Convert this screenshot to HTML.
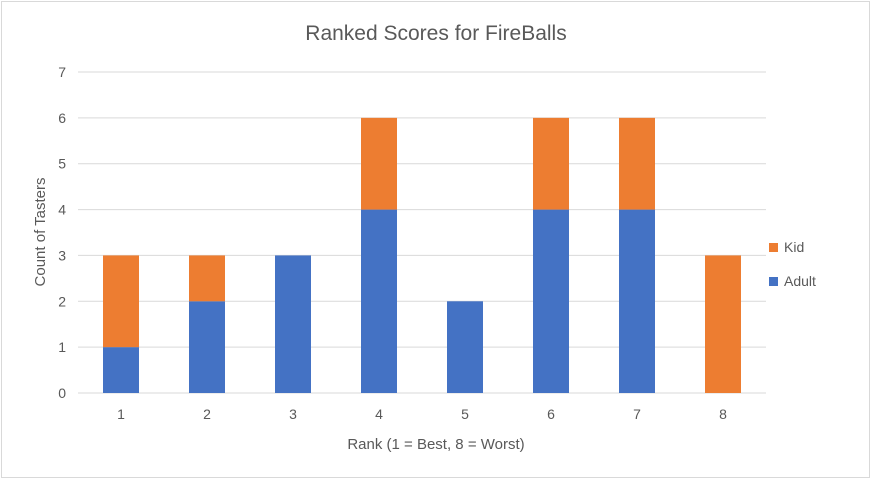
<!DOCTYPE html>
<html><head><meta charset="utf-8"><style>
body{margin:0;background:#fff;font-family:"Liberation Sans",sans-serif;}
svg{display:block}
</style></head><body>
<svg id="chart" width="872" height="480">
<rect x="1.5" y="1.5" width="868" height="476" fill="#fff" stroke="#d9d9d9"/>
<text x="436" y="40" text-anchor="middle" font-size="21" fill="#595959">Ranked Scores for FireBalls</text>
<g id="grid"></g><g id="bars"></g><g id="xt"></g><g id="yt"></g>
<text x="436" y="449" text-anchor="middle" font-size="15" fill="#595959">Rank (1 = Best, 8 = Worst)</text>
<text transform="translate(45,232) rotate(-90)" text-anchor="middle" font-size="15" fill="#595959">Count of Tasters</text>
<g>
<rect x="769" y="243" width="9" height="9" fill="#ED7D31"/>
<text x="784" y="252" font-size="14" fill="#595959">Kid</text>
<rect x="769" y="277" width="9" height="9" fill="#4472C4"/>
<text x="784" y="286" font-size="14" fill="#595959">Adult</text>
</g>
</svg>
<script>
const categories=["1","2","3","4","5","6","7","8"];
const adult=[1,2,3,4,2,4,4,0];
const kid=[2,1,0,2,0,2,2,3];
const yTicks=[0,1,2,3,4,5,6,7];
const NS="http://www.w3.org/2000/svg";
const left=78,right=766,y0=393,y7=72,yMax=7;
const y=v=>y0-(y0-y7)*v/yMax;
const step=(right-left)/categories.length;
const xc=i=>left+step*(i+0.5);
const bw=36;
function mk(tag,attrs,parent){const e=document.createElementNS(NS,tag);for(const k in attrs)e.setAttribute(k,attrs[k]);document.getElementById(parent).appendChild(e);return e;}
yTicks.forEach(t=>{
 const l=mk("line",{x1:left,x2:right,y1:y(t),y2:y(t),stroke:"#d9d9d9","stroke-width":1},"grid");
 
 
 const tx=mk("text",{x:66,y:y(t)+5,"text-anchor":"end","font-size":14,fill:"#595959"},"yt");
 tx.textContent=t;
 
 
});
categories.forEach((c,i)=>{
 const a=mk("rect",{x:xc(i)-bw/2,y:y(adult[i]),width:bw,height:y(0)-y(adult[i]),fill:"#4472C4"},"bars");
 
 
 const k=mk("rect",{x:xc(i)-bw/2,y:y(adult[i]+kid[i]),width:bw,height:y(adult[i])-y(adult[i]+kid[i]),fill:"#ED7D31"},"bars");
 
 
 const t=mk("text",{x:xc(i),y:419,"text-anchor":"middle","font-size":14,fill:"#595959"},"xt");
 t.textContent=c;
 
 
});
</script>
</body></html>
